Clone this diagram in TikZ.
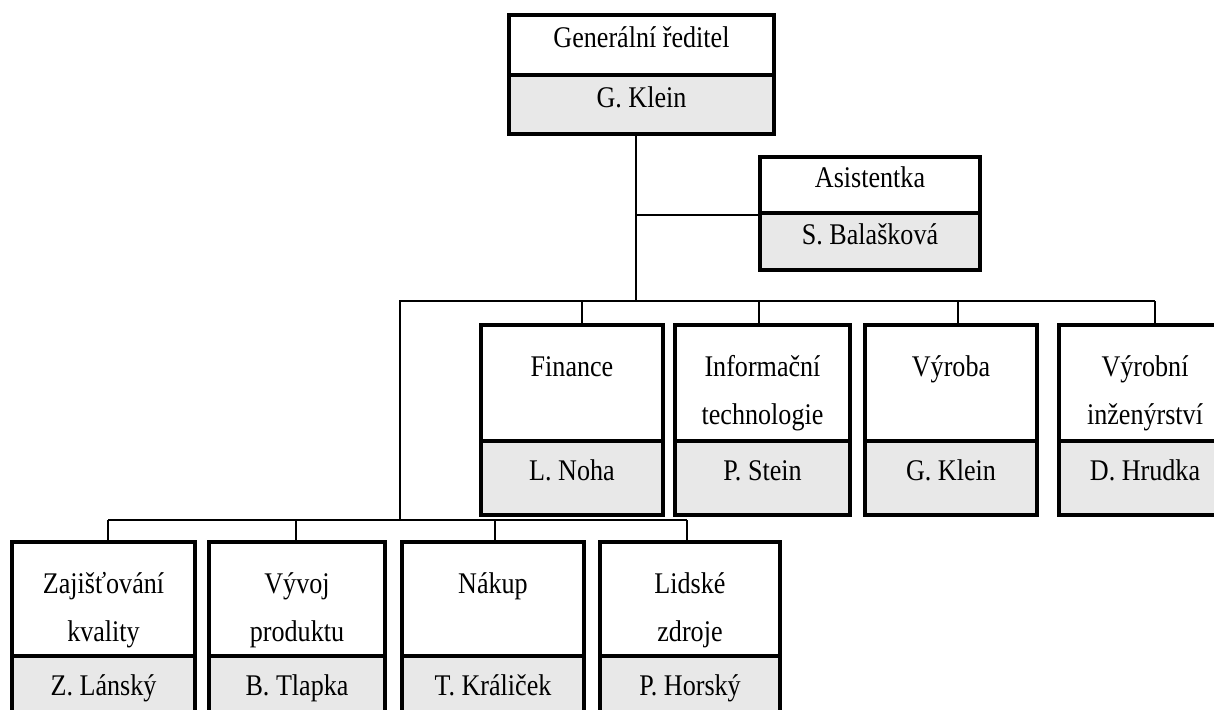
\documentclass[tikz,border=0pt]{standalone}
\usepackage{fontspec}
\setmainfont{Liberation Serif}[FakeStretch=0.87]
\usetikzlibrary{calc}
\definecolor{namefill}{RGB}{232,232,232}

% One organisational unit: a white title part above a grey name part.
% #1 name, #2 left, #3 right, #4 top, #5 divider, #6 bottom, #7 title, #8 person
\newcommand\orgunit[8]{%
  \node[titlepart, minimum width={(#3-#2)*1pt}, minimum height={(#5-#4)*1pt}] (#1) at (#2,#4) {};
  \node[namepart, minimum width={(#3-#2)*1pt}, minimum height={(#6-#5)*1pt}] (#1-p) at (#2,#5) {#8};
  \node[titletext] (#1-t) at ($(#1.north)+(0,20)$) {\strut #7};
}

\begin{document}
\begin{tikzpicture}[x=1pt,y=-1pt,
  every node/.style={font=\fontsize{30}{48}\selectfont},
  part/.style={draw=black, line width=4pt, rectangle, inner sep=0pt, anchor=north west},
  titlepart/.style={part, fill=white},
  namepart/.style={part, fill=namefill, text height=0.7em, text depth=0.2em},
  titletext/.style={anchor=north, align=center, inner sep=0pt},
  link/.style={draw=black, line width=1.8pt}]
\useasboundingbox (0,0) rectangle (1214,709);
\clip (0,0) rectangle (1214,709);

% top of the chart
\node[titlepart, text height=0.7em, text depth=0.2em,
      minimum width=265pt, minimum height=60pt] (ceo) at (507,13) {Generální ředitel};
\node[namepart, minimum width=265pt, minimum height=59pt] (ceo-p) at (507,73) {G. Klein};

\node[titlepart, text height=0.7em, text depth=0.2em,
      minimum width=220pt, minimum height=56pt] (asst) at (758,155) {Asistentka};
\node[namepart, minimum width=220pt, minimum height=57pt] (asst-p) at (758,211) {S. Balašková};

% departments, upper row
\orgunit{fin}{479}{661}{323}{439}{513}{Finance}{L. Noha}
\orgunit{it}{673}{848}{323}{439}{513}{Informační\\technologie}{P. Stein}
\orgunit{vyr}{863}{1035}{323}{439}{513}{Výroba}{G. Klein}
\orgunit{inz}{1057}{1229}{323}{439}{513}{Výrobní\\inženýrství}{D. Hrudka}

% departments, lower row
\orgunit{qa}{10}{193}{540}{654}{728}{Zajišťování\\kvality}{Z. Lánský}
\orgunit{dev}{207}{383}{540}{654}{728}{Vývoj\\produktu}{B. Tlapka}
\orgunit{buy}{400}{582}{540}{654}{728}{Nákup}{T. Králiček}
\orgunit{hr}{598}{778}{540}{654}{728}{Lidské\\zdroje}{P. Horský}

% junctions on the connector buses
\coordinate (hub) at (636,301);
\coordinate (lhub) at (400,301);
\coordinate (lbus) at (400,520);
\coordinate (t-fin) at (582,301);
\coordinate (t-it) at (759,301);
\coordinate (t-vyr) at (958,301);
\coordinate (t-inz) at (1155,301);
\coordinate (t-qa) at (108,520);
\coordinate (t-dev) at (296,520);
\coordinate (t-buy) at (495,520);
\coordinate (t-hr) at (687,520);

% connectors
\draw[link] (hub |- ceo-p.south) -- (hub);
\draw[link] (hub |- asst.south west) -- (asst.south west);
\draw[link] (lbus) -- (lhub) -- (t-inz);
\foreach \b in {fin,it,vyr,inz}
  \draw[link] (t-\b) -- (t-\b |- \b.north);
\draw[link] (t-qa) -- (t-hr);
\foreach \b in {qa,dev,buy,hr}
  \draw[link] (t-\b) -- (t-\b |- \b.north);
\end{tikzpicture}
\end{document}
